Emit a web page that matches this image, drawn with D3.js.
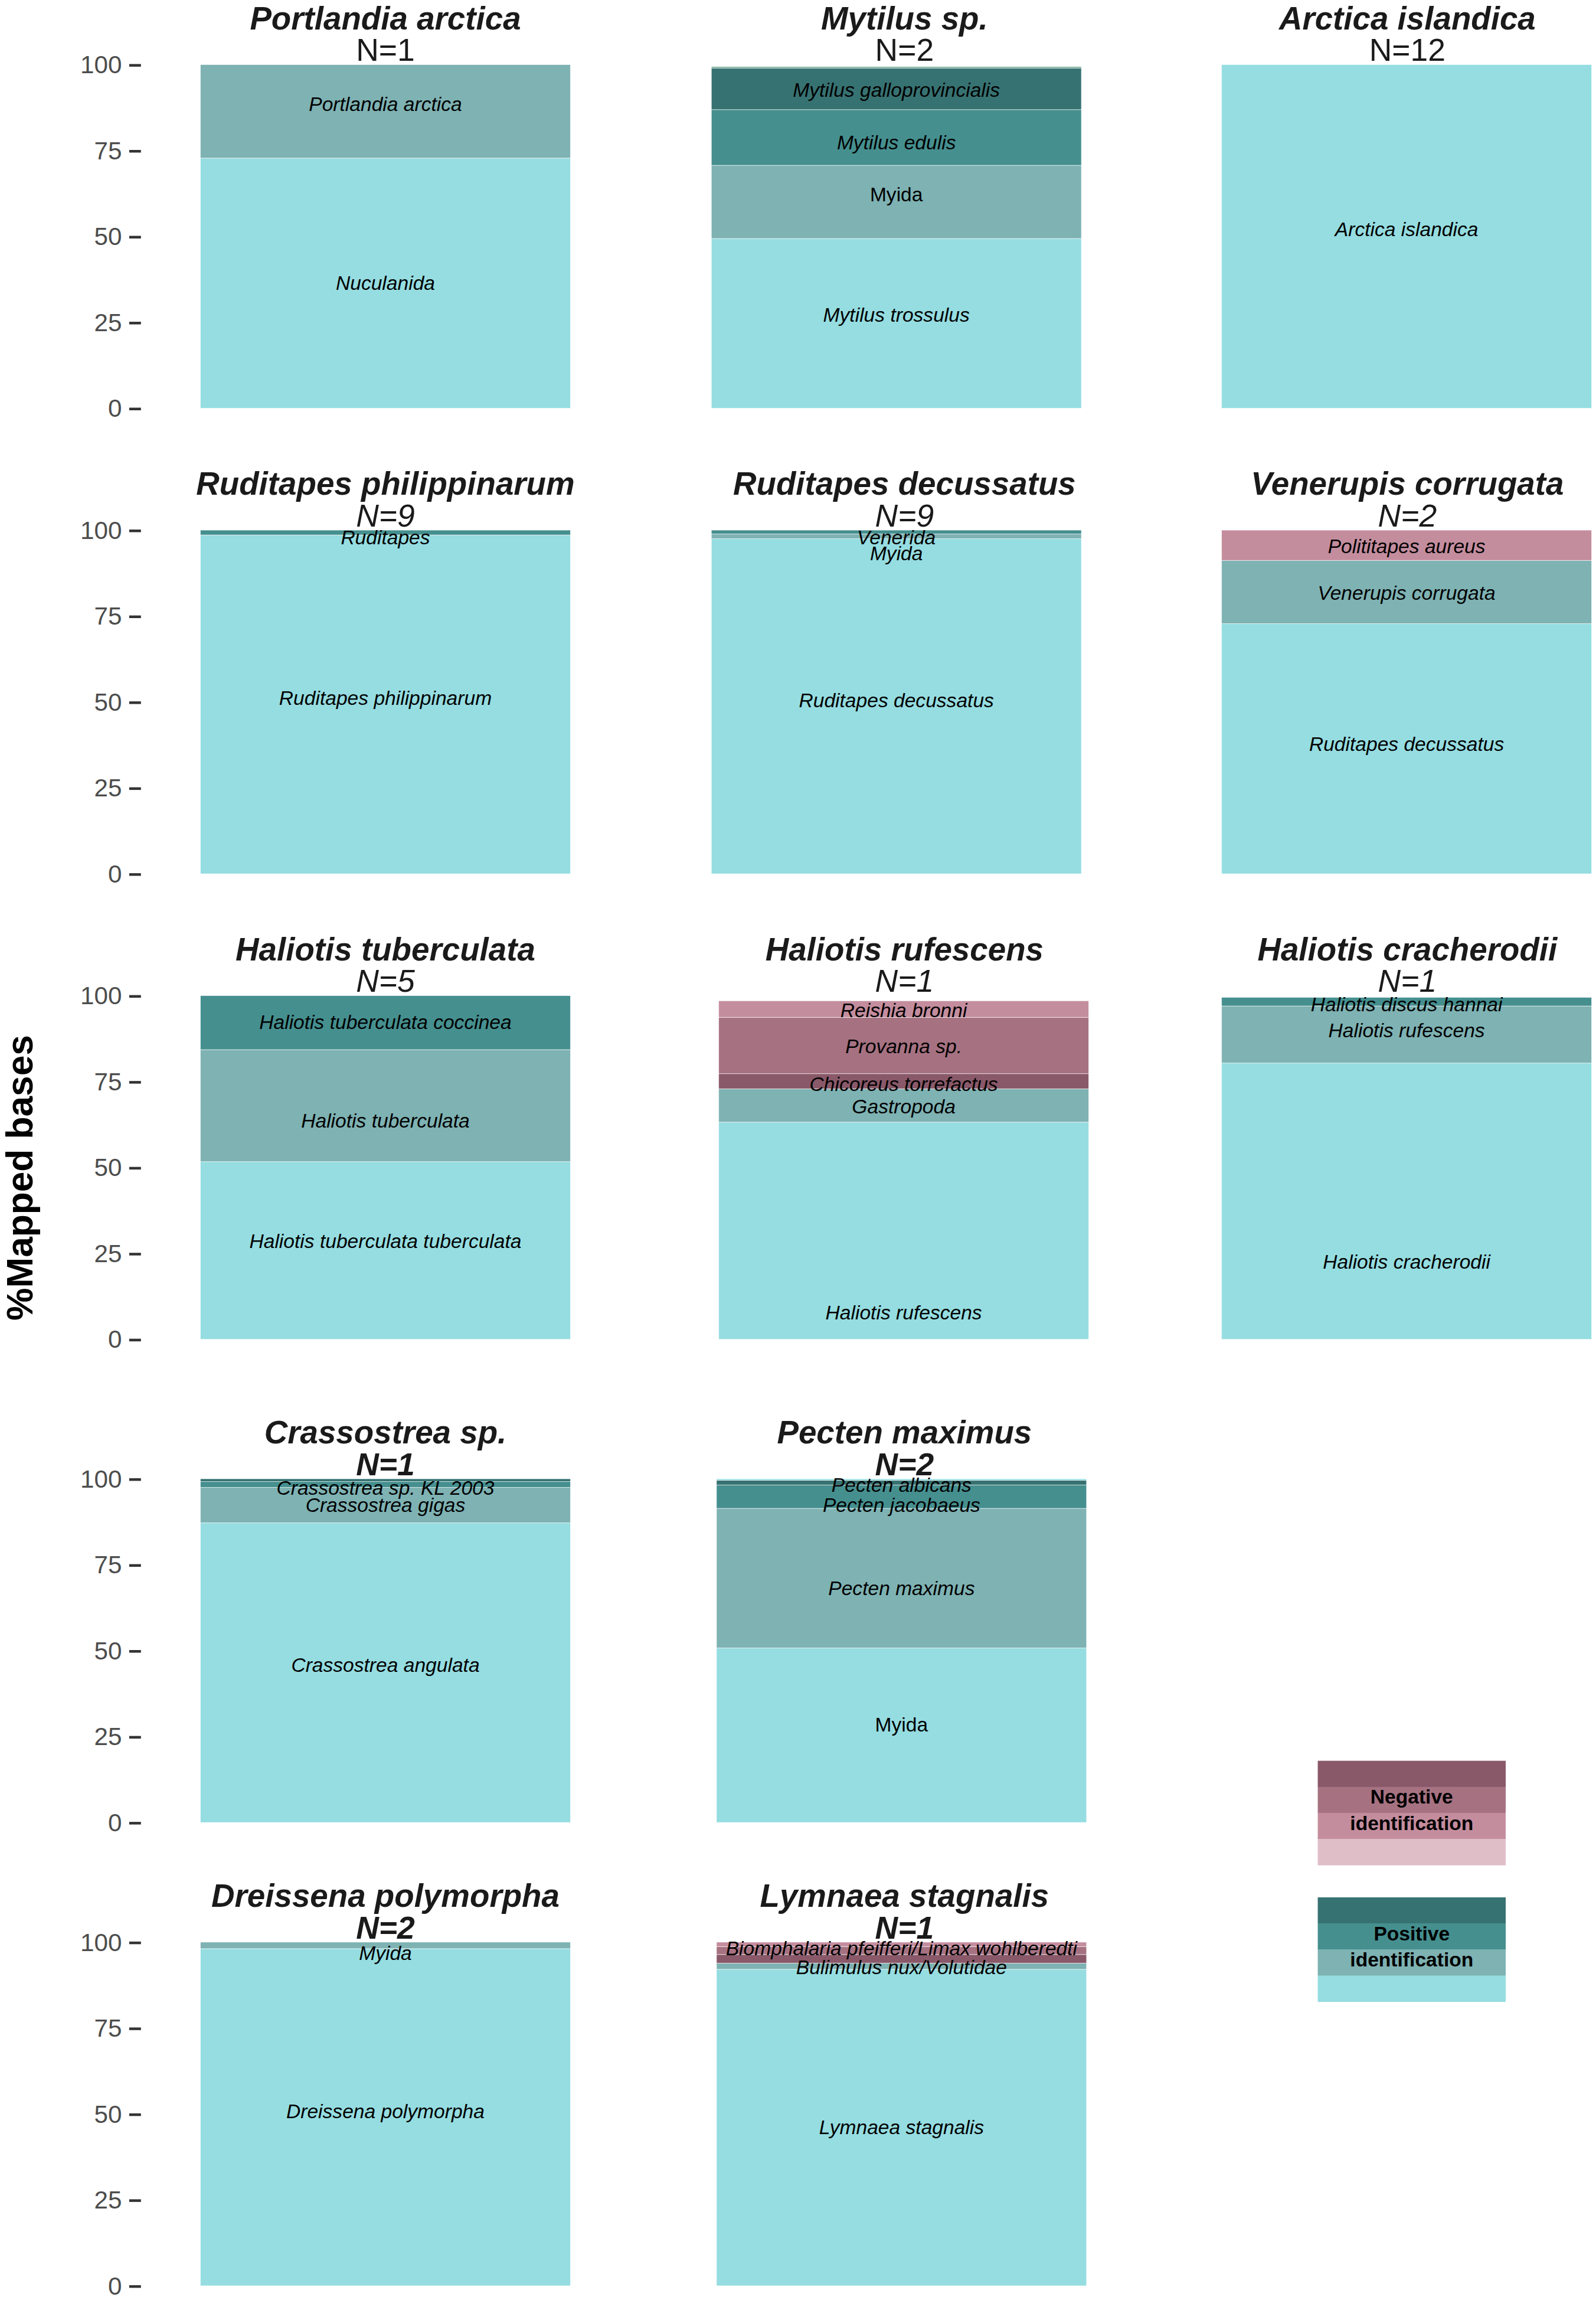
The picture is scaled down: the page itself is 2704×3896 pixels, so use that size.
<!DOCTYPE html>
<html><head><meta charset="utf-8">
<script src="https://cdn.jsdelivr.net/npm/d3@7"></script>
<style>html,body{margin:0;padding:0;background:#fff}svg{display:block}</style>
</head><body><div id="chart"></div>
<script>
// ---------------- DATA ----------------
const species = ["Portlandia arctica","Mytilus sp.","Arctica islandica",
  "Ruditapes philippinarum","Ruditapes decussatus","Venerupis corrugata",
  "Haliotis tuberculata","Haliotis rufescens","Haliotis cracherodii",
  "Crassostrea sp.","Pecten maximus","Dreissena polymorpha","Lymnaea stagnalis"];
const sampleSize = [1,2,12,9,9,2,5,1,1,1,2,2,1];

// stacked segments, bottom -> top
const segmentNames = [
  ["Nuculanida","Portlandia arctica"],
  ["Mytilus trossulus","Myida","Mytilus edulis","Mytilus galloprovincialis",""],
  ["Arctica islandica"],
  ["Ruditapes philippinarum","Ruditapes"],
  ["Ruditapes decussatus","Myida","Venerida"],
  ["Ruditapes decussatus","Venerupis corrugata","Polititapes aureus"],
  ["Haliotis tuberculata tuberculata","Haliotis tuberculata","Haliotis tuberculata coccinea"],
  ["Haliotis rufescens","Gastropoda","Chicoreus torrefactus","Provanna sp.","Reishia bronni"],
  ["Haliotis cracherodii","Haliotis rufescens","Haliotis discus hannai"],
  ["Crassostrea angulata","Crassostrea gigas","Crassostrea sp. KL 2003",""],
  ["Myida","Pecten maximus","Pecten jacobaeus","Pecten albicans",""],
  ["Dreissena polymorpha","Myida"],
  ["Lymnaea stagnalis","Bulimulus nux/Volutidae","","Biomphalaria pfeifferi/Limax wohlberedti",""]
];
const segmentValues = [
  [72.8,27.2],
  [49.4,21.3,16.2,12.1,0.4],
  [100],
  [98.6,1.4],
  [97.5,1.4,1.1],
  [72.8,18.4,8.8],
  [51.7,32.6,15.7],
  [63.2,9.7,4.4,16.4,4.8],
  [80.4,16.6,2.5],
  [87.2,10.3,1.7,0.8],
  [50.8,40.6,6.8,1.4,0.4],
  [98.1,1.9],
  [92.1,1.8,2.5,2.3,1.3]
];
// identification class: p = positive (1 light .. 4 dark), n = negative (1 dark .. 4 light)
const segmentClass = [
  ["p1","p2"],
  ["p1","p2","p3","p4","g"],
  ["p1"],
  ["p1","p3"],
  ["p1","p2","p3"],
  ["p1","p2","n3"],
  ["p1","p2","p3"],
  ["p1","p2","n1","n2","n3"],
  ["p1","p2","p3"],
  ["p1","p2","p3","p4"],
  ["p1","p2","p3","p4","p1"],
  ["p1","p2"],
  ["p1","p2","n1","n2","n3"]
];
// label value (% mapped bases) at which each segment's name is written
const labelPositions = [
  [36.4,88.4],
  [27.1,62.2,77.4,92.6,0],
  [52.0],
  [51.2,97.8],
  [50.4,93.2,97.8],
  [37.7,81.7,95.2],
  [28.5,63.6,92.3],
  [7.8,67.8,74.2,85.2,95.7],
  [22.6,89.8,97.4],
  [45.8,92.3,97.3,0],
  [28.4,68.2,92.3,98.2,0],
  [50.7,96.8],
  [46.1,92.6,0,98.1,0]
];
const uprightLabels = [["Mytilus sp.","Myida"],["Pecten maximus","Myida"]];
const yTickValues = [0,25,50,75,100];
const yAxisTitle = "%Mapped bases";
const legendNegative = ["n1","n2","n3","n4"];
const legendPositive = ["p4","p3","p2","p1"];
const legendLabels = [["Negative","identification"],["Positive","identification"]];

// ---------------- STYLE / LAYOUT ----------------
const colour = {p1:"#95dde1",p2:"#7eb2b3",p3:"#458f8f",p4:"#377272",
  n1:"#895869",n2:"#a67282",n3:"#c48d9e",n4:"#e0bec8",g:"#6aa38a"};
const FONT = "'Liberation Sans', Arial, Helvetica, sans-serif";
const VW = 1087, VH = 3896 * 1087 / 2704;
const rowTop = [44, 361, 678, 1007, 1322.5];
const plotH = 234, barW = 252;
const panelRow = [0,0,0,1,1,1,2,2,2,3,3,4,4];
const panelCol = [0,1,2,0,1,2,0,1,2,0,1,0,1];
const barLeft = [136.5,484.5,832, 136.5,484.5,832, 136.5,489.5,832, 136.5,488, 136.5,488];
const titleCenter = [262.5, 616, 958.5];
const nStyle = [{st:"normal",w:"normal"},{st:"italic",w:"normal"},{st:"italic",w:"normal"},
                {st:"italic",w:"bold"},{st:"italic",w:"bold"}];

const svg = d3.select("#chart").append("svg")
  .attr("width", 2704).attr("height", 3896)
  .attr("viewBox", `0 0 ${VW} ${VH}`)
  .style("font-family", FONT);
svg.append("rect").attr("width", VW).attr("height", VH).attr("fill", "#fff");

species.forEach((sp, i) => {
  const r = panelRow[i];
  const y = d3.scaleLinear().domain([0, 100]).range([rowTop[r] + plotH, rowTop[r]]);
  const x0 = barLeft[i];
  const xc = x0 + barW / 2;
  const g = svg.append("g");
  const tops = Array.from(d3.cumsum(segmentValues[i]));
  const segs = segmentValues[i].map((v, k) => ({
    name: segmentNames[i][k], v, cls: segmentClass[i][k],
    top: tops[k], bottom: tops[k] - v, lab: labelPositions[i][k]
  }));
  g.selectAll("rect.seg").data(segs).join("rect")
    .attr("class", "seg")
    .attr("x", x0).attr("width", barW)
    .attr("y", d => y(d.top))
    .attr("height", d => y(d.bottom) - y(d.top))
    .attr("fill", d => colour[d.cls])
    .attr("stroke", "#ffffff").attr("stroke-width", 0.35).attr("stroke-opacity", 0.7);

  g.selectAll("text.seglab").data(segs.filter(d => d.name)).join("text")
    .attr("class", "seglab")
    .attr("x", xc).attr("y", d => y(d.lab))
    .attr("text-anchor", "middle").attr("dominant-baseline", "central")
    .attr("font-size", 13.5)
    .attr("font-style", d => uprightLabels.some(u => u[0] === sp && u[1] === d.name) ? "normal" : "italic")
    .attr("fill", "#000")
    .text(d => d.name);

  const tx = titleCenter[panelCol[i]];
  g.append("text").attr("x", tx).attr("y", rowTop[r] - 24)
    .attr("text-anchor", "middle").attr("font-size", 22)
    .attr("font-weight", "bold").attr("font-style", "italic").attr("fill", "#1a1a1a")
    .text(sp);
  g.append("text").attr("x", tx).attr("y", rowTop[r] - 2.5)
    .attr("text-anchor", "middle").attr("font-size", 21.5)
    .attr("font-weight", nStyle[r].w).attr("font-style", nStyle[r].st).attr("fill", "#1a1a1a")
    .text("N=" + sampleSize[i]);

  if (panelCol[i] === 0) {
    const ax = svg.append("g").attr("transform", `translate(96,0)`)
      .call(d3.axisLeft(y).tickValues(yTickValues).tickSize(8).tickPadding(5));
    ax.select(".domain").remove();
    ax.selectAll(".tick line").attr("stroke", "#333").attr("stroke-width", 1.8);
    ax.selectAll(".tick text").attr("fill", "#4d4d4d").attr("font-size", 17)
      .attr("font-family", FONT);
  }
});

// y-axis title
svg.append("text").attr("transform", "translate(22,802) rotate(-90)")
  .attr("text-anchor", "middle").attr("font-size", 25).attr("font-weight", "bold")
  .attr("fill", "#000").text(yAxisTitle);

// legend
const legX = 897.5, legW = 128;
[[legendNegative, 1199, 1270], [legendPositive, 1292, 1363]].forEach(([tones, t, b], j) => {
  const band = d3.scaleBand().domain(tones).range([t, b]);
  svg.append("g").selectAll("rect").data(tones).join("rect")
    .attr("x", legX).attr("width", legW)
    .attr("y", d => band(d)).attr("height", band.bandwidth() + 0.2)
    .attr("fill", d => colour[d]);
  svg.append("g").selectAll("text").data(legendLabels[j]).join("text")
    .attr("x", legX + legW / 2)
    .attr("y", (d, k) => band(tones[1]) + band.bandwidth() * (k + 1) - 6.2)
    .attr("text-anchor", "middle").attr("font-size", 13.5).attr("font-weight", "bold")
    .attr("fill", "#000").text(d => d);
});
</script></body></html>
